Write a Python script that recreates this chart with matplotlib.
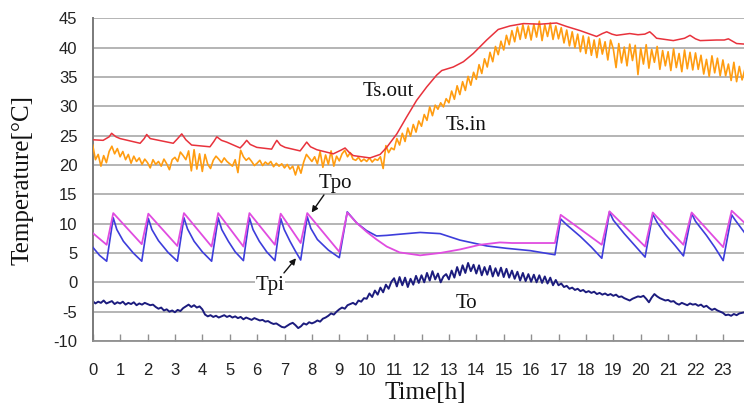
import numpy as np
import matplotlib
matplotlib.use("Agg")
import matplotlib.pyplot as plt

# ---------------- data ----------------
hours = list(range(0, 24))
yticks = list(range(-10, 50, 5))

# Ts.out (red), irregular time points [h]
tsout_t = [0, 0.38, 0.6, 0.69, 0.85, 1.0,
           1.73, 1.88, 1.97, 2.1,
           2.94, 3.1, 3.25, 3.4, 3.61,
           4.28, 4.42, 4.53, 4.7, 4.89,
           5.38, 5.5, 5.62, 5.75, 5.99,
           6.53, 6.64, 6.72, 6.85, 7.02,
           7.57, 7.7, 7.81, 7.95, 8.18,
           8.78, 9.05, 9.21, 9.35, 9.51,
           10.12, 10.49, 10.73, 11.1, 11.46, 11.82, 12.19, 12.55, 12.74, 13.16,
           13.53, 13.89, 14.38, 14.8, 15.23, 15.72, 16.33, 16.93, 17.3, 17.79,
           18.39, 18.6, 18.76, 18.95, 19.12, 19.6, 19.9, 20.15, 20.33, 20.45,
           20.58, 21.19, 21.6, 21.8, 22.0, 22.17, 22.77, 23.05, 23.2, 23.35,
           23.5, 23.8]
tsout_v = [24.3, 24.2, 24.8, 25.4, 24.8, 24.5,
           23.7, 24.5, 25.2, 24.5,
           23.7, 24.5, 25.3, 24.3, 23.4,
           23.1, 24.0, 24.8, 24.2, 23.9,
           22.9, 23.5, 24.2, 23.5, 23.0,
           22.7, 23.6, 24.2, 23.4, 23.0,
           22.4, 23.2, 23.9, 23.1, 22.6,
           21.9, 22.5, 22.9, 22.2, 21.6,
           21.2, 21.8, 23.0, 25.3, 28.2, 31.0, 33.3, 35.3, 36.1, 36.7,
           37.6, 39.0, 41.3, 43.1, 43.7, 44.1, 44.0, 44.2, 43.6, 42.9,
           41.9, 42.4, 42.7, 42.3, 42.1, 42.4, 42.2, 42.3, 42.7, 42.2,
           41.6, 41.2, 41.6, 42.1, 41.5, 41.2, 41.3, 41.3, 41.5, 41.1,
           40.7, 40.6]

# Ts.in (orange), every 0.1 h from 0.0 to 23.8
tsin_v = [
    23.4, 20.9, 21.8, 19.8, 21.6, 20.4, 22.3, 23.2, 21.9, 22.8,
    21.4, 22.3, 20.9, 21.8, 20.3, 21.5, 20.6, 21.2, 20.1, 21.0,
    20.4, 19.5, 20.9, 20.1, 20.6, 19.8, 21.0, 20.2, 19.2, 20.9,
    21.3, 20.6, 22.2, 21.6, 20.9, 22.4, 19.0, 22.6, 19.3, 21.9,
    18.9, 21.8, 20.1, 19.4, 20.8, 21.5, 21.0, 20.4, 21.2, 20.6,
    20.2, 19.8, 20.9, 18.7, 22.5, 21.4, 20.8, 21.2, 20.6, 19.9,
    20.3, 20.8, 19.9, 20.5, 20.1, 20.6, 19.7, 20.3, 19.8, 20.2,
    19.5, 20.1, 19.3, 19.8, 18.3, 19.9, 18.6, 20.5, 21.8, 21.2,
    20.6, 21.4, 20.2, 22.3, 19.6, 21.7, 20.1, 22.4, 19.8, 21.5,
    20.7, 21.9, 22.5, 21.4, 22.1, 21.0, 20.8, 21.3, 20.6, 21.0,
    20.6, 21.2, 20.5, 21.0, 20.8, 21.4, 19.4, 23.3, 22.1, 22.9,
    22.6, 24.5, 23.4, 25.4, 24.0, 26.3, 24.9, 26.9, 25.6, 27.5,
    26.6, 28.6, 27.6, 29.9, 28.4, 30.2, 29.5, 30.6, 29.9, 31.3,
    30.6, 32.6, 31.2, 33.5, 32.0, 34.2, 32.7, 35.1, 33.6, 35.8,
    34.6, 37.1, 35.6, 38.1, 36.7, 39.2, 37.6, 40.2, 38.8, 41.1,
    39.6, 42.1, 40.5, 42.9, 41.0, 43.5, 41.4, 43.9, 41.6, 43.7,
    41.3, 44.0, 41.8, 44.5, 41.2, 43.9, 41.9, 44.2, 41.4, 43.7,
    41.5, 43.4, 40.8, 43.0, 40.3, 42.7, 40.0, 42.3, 39.3, 42.0,
    39.0, 41.8, 38.7, 41.3, 38.3, 41.5, 38.9, 41.0, 37.9, 41.3,
    39.8, 36.6, 40.7, 37.4, 40.1, 36.9, 40.6, 37.8, 40.4, 35.4,
    39.9, 37.2, 40.5, 36.5, 39.7, 37.5, 40.2, 36.3, 39.5, 36.9,
    39.3, 36.1, 39.8, 36.6, 39.0, 35.9, 39.6, 36.4, 39.2, 36.2,
    39.1, 36.3, 38.7, 35.5, 38.0, 35.1, 38.6, 35.7, 38.2, 35.2,
    37.9, 35.2, 37.2, 34.4, 37.5, 34.2, 36.8, 34.5, 36.3]

# To (navy), every 0.1 h from 0.0 to 23.8
to_v = [
    -3.2, -3.6, -3.3, -3.5, -3.1, -3.6, -3.4, -3.2, -3.7, -3.4,
    -3.6, -3.3, -3.8, -3.5, -3.7, -3.4, -3.9, -3.6, -3.8, -3.5,
    -3.7, -3.9, -3.8, -4.2, -4.5, -4.3, -4.8, -4.6, -5.0, -4.8,
    -5.1, -4.7, -4.9, -4.4, -4.1, -3.8, -4.2, -3.9, -4.3, -4.1,
    -4.6, -5.5, -5.8, -5.6, -5.9, -5.7, -6.0, -5.8, -5.6, -5.9,
    -5.7, -6.0, -5.8, -6.1, -5.9, -6.3, -6.0, -6.2, -6.4, -6.1,
    -6.3, -6.5, -6.4, -6.7, -6.6, -6.9, -7.1, -7.0, -7.3, -7.6,
    -7.7, -7.4, -7.1, -6.9, -7.3, -7.8, -7.5, -7.0, -7.2, -6.8,
    -7.0, -6.8, -6.5, -6.7, -6.2, -6.0, -5.7, -5.3, -5.5, -5.0,
    -4.6, -4.3, -4.5, -3.9, -3.7, -3.5, -3.8, -3.1, -3.3, -2.7,
    -2.8, -1.9, -2.5, -1.4, -2.1, -0.9, -1.7, -0.4, -1.1, 0.1,
    0.7, -0.7, 0.9, -0.5, 0.8, -0.8, 0.6, -0.4, 1.1, -0.1,
    1.2, 0.0, 1.6, 0.3, 1.9, 0.5, 1.5, 0.0, 1.0, 1.4,
    0.5, 2.0, 0.8, 2.6, 1.2, 2.9, 1.6, 3.3, 1.9, 3.0,
    1.5, 2.9, 1.2, 2.6, 1.3, 2.8, 1.0, 2.4, 1.1, 2.5,
    0.9, 2.3, 0.8, 2.0, 0.6, 1.8, 0.3, 1.6, 0.2, 1.4,
    0.1, 1.3, 0.0, 1.2, -0.1, 1.0, -0.2, 0.8, -0.5, 0.4,
    -0.5, -0.2, -0.8, -0.6, -1.1, -0.9, -1.3, -1.1, -1.5, -1.3,
    -1.7, -1.5, -1.8, -1.6, -2.0, -1.8, -2.1, -1.9, -2.2, -2.0,
    -2.3, -2.1, -2.5, -2.4, -2.7, -2.9, -3.1, -2.8, -2.6, -2.4,
    -2.5, -2.3, -2.8, -3.4, -2.6, -2.0, -2.4, -2.7, -2.9, -3.1,
    -3.0, -3.3, -3.2, -3.6, -3.8, -3.5, -3.7, -3.9, -3.6, -3.8,
    -3.7, -4.0, -3.8, -4.2, -4.0, -4.4, -4.7, -4.5, -4.8, -5.0,
    -5.2, -5.6, -5.5, -5.7, -5.4, -5.6, -5.3, -5.2, -5.1]

# Tpo (magenta)
tpo_t = [0, 0.51, 0.75, 1.79, 2.03, 3.09, 3.33, 4.34, 4.58, 5.5, 5.72, 6.65, 6.86,
         7.59, 7.83, 9.0, 9.29, 9.64, 10.0, 10.36, 10.73, 11.2, 11.95, 12.68, 13.4,
         14.13, 14.86, 15.3, 16.87, 17.08, 18.58, 18.86, 20.16, 20.44, 21.56, 21.86,
         23.01, 23.32, 23.8]
tpo_v = [8.4, 6.4, 11.8, 6.5, 11.7, 6.2, 11.8, 6.1, 11.8, 6.1, 11.8, 6.4, 11.7,
         6.7, 11.8, 5.2, 11.9, 10.1, 8.6, 7.3, 6.1, 5.1, 4.6, 5.0, 5.6,
         6.4, 6.8, 6.7, 6.7, 11.5, 6.4, 12.1, 6.1, 11.9, 6.4, 11.9,
         6.0, 12.2, 10.1]

# Tpi (blue)
tpi_t = [0, 0.25, 0.51, 0.75, 0.88, 1.12, 1.48, 1.79,
         2.03, 2.16, 2.4, 2.75, 3.09,
         3.33, 3.46, 3.7, 4.0, 4.34,
         4.58, 4.71, 4.95, 5.2, 5.5,
         5.72, 5.85, 6.08, 6.35, 6.65,
         6.86, 6.99, 7.2, 7.4, 7.59,
         7.83, 7.96, 8.2, 8.6, 9.0,
         9.29, 9.64, 10.0, 10.36, 10.73, 11.2, 11.95, 12.68, 13.4, 14.38, 15.1, 15.97, 16.87,
         17.08, 17.3, 17.8, 18.2, 18.58,
         18.86, 19.0, 19.4, 19.8, 20.16,
         20.44, 20.6, 20.9, 21.25, 21.56,
         21.86, 22.0, 22.4, 22.7, 23.01,
         23.32, 23.45, 23.8]
tpi_v = [6.0, 4.6, 3.6, 11.0, 9.0, 7.0, 5.0, 3.6,
         10.9, 9.0, 7.1, 5.1, 3.6,
         11.0, 9.1, 7.0, 5.2, 3.6,
         11.0, 9.0, 7.0, 5.2, 3.7,
         11.0, 9.0, 7.0, 5.2, 3.7,
         10.9, 9.0, 7.0, 5.3, 3.8,
         11.2, 9.2, 7.3, 5.5, 4.2,
         12.0, 10.1, 8.8, 7.9, 8.0, 8.2, 8.5, 8.3, 7.2, 6.2, 5.8, 5.4, 4.7,
         10.8, 9.8, 7.8, 6.0, 4.1,
         12.0, 10.6, 8.3, 6.2, 4.3,
         11.6, 10.2, 8.2, 6.3, 4.5,
         11.7, 10.4, 8.0, 6.0, 3.7,
         11.5, 10.6, 8.4]

grid_t = [round(0.1 * i, 1) for i in range(len(tsin_v))]

# ---------------- figure ----------------
W, H = 744, 408
fig = plt.figure(figsize=(W / 100, H / 100), dpi=100)
ax = fig.add_axes([92.7 / W, 1 - 341 / H, (W - 92.7) / W, (341 - 18.3) / H])

grid_col = "#a8a8a8"
for y in yticks:
    ax.axhline(y, color=grid_col, lw=1.2, zorder=0)

ax.plot(grid_t, to_v, color="#1c1c7e", lw=1.4, zorder=2)
ax.plot(tpi_t, tpi_v, color="#3d3ddb", lw=1.2, zorder=3)
ax.plot(tpo_t, tpo_v, color="#e04ce0", lw=1.3, zorder=4)
ax.plot(grid_t, tsin_v, color="#ff9c10", lw=1.2, zorder=5)
ax.plot(tsout_t, tsout_v, color="#e8323c", lw=1.1, zorder=6)

ax.set_xlim(0, 23.77)
ax.set_ylim(-10, 45)
ax.set_xticks(hours)
ax.set_yticks(yticks)

tick_font = dict(family=["Liberation Sans", "DejaVu Sans"], size=12)
ax.set_xticklabels([str(h) for h in hours], fontdict=tick_font, color="#222222")
ax.set_yticklabels([str(y) for y in yticks], fontdict=tick_font, color="#222222")
ax.tick_params(axis="x", direction="in", length=5, width=1, color="#909090", pad=16)
ax.tick_params(axis="y", length=0, pad=11)

for s in ["top", "right"]:
    ax.spines[s].set_visible(False)
ax.spines["left"].set_color("#7a7a7a")
ax.spines["left"].set_linewidth(1.4)
ax.spines["bottom"].set_color("#909090")
ax.spines["bottom"].set_linewidth(1.3)

serif = ["Liberation Serif", "DejaVu Serif"]
fig.text(22.5 / W, 1 - 180 / H, "Temperature[\u00b0C]", rotation=90, ha="center",
         va="center", family=serif, size=18, color="#111111")
fig.text(425 / W, 1 - 393 / H, "Time[h]", ha="center", va="center",
         family=serif, size=18, color="#111111")

ann = dict(family=serif, size=15, color="#111111", ha="center", va="center", zorder=8)
ax.text(10.78, 32.6, "Ts.out", **ann)
ax.text(13.62, 26.8, "Ts.in", **ann)
ax.text(8.86, 16.9, "Tpo", **ann)
ax.text(6.47, -0.6, "Tpi", bbox=dict(facecolor="white", edgecolor="none", pad=0.5), **ann)
ax.text(13.65, -3.6, "To", **ann)

arw = dict(arrowstyle="-|>", color="#111111", lw=1.0, mutation_scale=9, shrinkA=0, shrinkB=0)
ax.annotate("", xy=(7.99, 11.9), xytext=(8.44, 14.9), arrowprops=arw, zorder=9)
ax.annotate("", xy=(7.42, 4.1), xytext=(6.98, 1.6), arrowprops=arw, zorder=9)

fig.savefig("out.png", dpi=100)
